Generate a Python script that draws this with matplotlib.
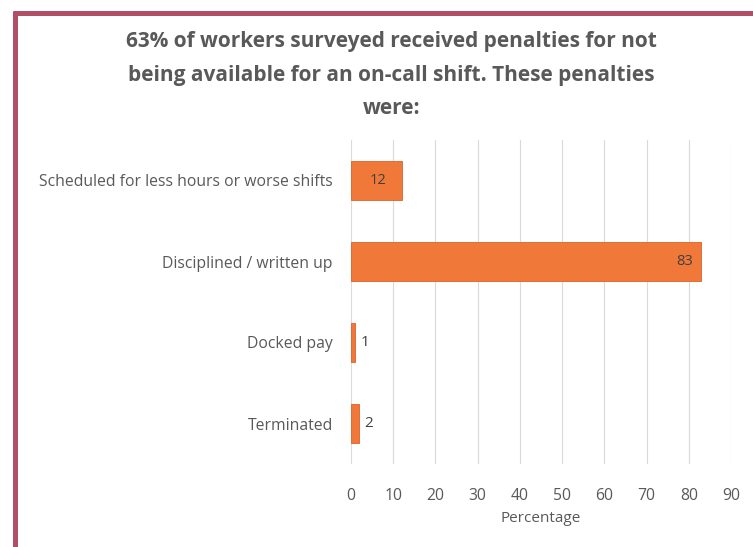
import matplotlib
matplotlib.use("Agg")
import matplotlib.pyplot as plt
from matplotlib.lines import Line2D

categories = ["Scheduled for less hours or worse shifts", "Disciplined / written up", "Docked pay", "Terminated"]
values = [12, 83, 1, 2]
xticks = [0, 10, 20, 30, 40, 50, 60, 70, 80, 90]

plt.rcParams['font.family'] = ['Open Sans', 'DejaVu Sans']
W, H = 753, 547
fig = plt.figure(figsize=(W/100, H/100), dpi=100)
fig.patch.set_facecolor('white')

# frame borders (top and left)
bc = '#B04E68'
fig.add_artist(Line2D([14.5/W, 14.5/W], [0, 1-10.5/H], color=bc, lw=3.6, transform=fig.transFigure, solid_capstyle='butt'))
fig.add_artist(Line2D([12.7/W, 1], [1-12.5/H, 1-12.5/H], color=bc, lw=3.6, transform=fig.transFigure, solid_capstyle='butt'))

ax_left, ax_right, ax_top, ax_bot = 351, 731, 140, 464
ax = fig.add_axes([ax_left/W, 1-ax_bot/H, (ax_right-ax_left)/W, (ax_bot-ax_top)/H])
ypos = list(range(len(categories)))
bars = ax.barh(ypos, values, height=0.49, color='#F07838', edgecolor='#D9622A', linewidth=0.6, zorder=3)
ax.set_xlim(0, 90)
ax.set_ylim(len(categories)-0.5, -0.5)
ax.set_xticks(xticks)
ax.set_yticks(ypos)
ax.set_yticklabels(categories)
ax.tick_params(axis='both', length=0, colors='#595959', labelsize=11.3)
ax.tick_params(axis='y', pad=13)
ax.tick_params(axis='x', pad=17)
for s in ax.spines.values():
    s.set_visible(False)
ax.grid(axis='x', color='#DADADA', lw=0.8, zorder=0)
ax.set_xlabel("Percentage", color='#595959', fontsize=11, labelpad=5)

for b, v in zip(bars, values):
    yc = b.get_y() + b.get_height()/2
    if v >= 10:
        ax.text(v - 4 if v > 50 else v/2 + 0.3, yc, str(v), ha='center', va='center', color='#404040', fontsize=10.5)
    else:
        ax.text(v + 1.2, yc, str(v), ha='left', va='center', color='#404040', fontsize=11)

fig.text(0.5 + 15/W, 1-75/H, "63% of workers surveyed received penalties for not\nbeing available for an on-call shift. These penalties\nwere:",
         ha='center', va='center', fontsize=15, fontweight='bold', color='#595959', linespacing=1.75)

fig.savefig("out.png", dpi=100)
